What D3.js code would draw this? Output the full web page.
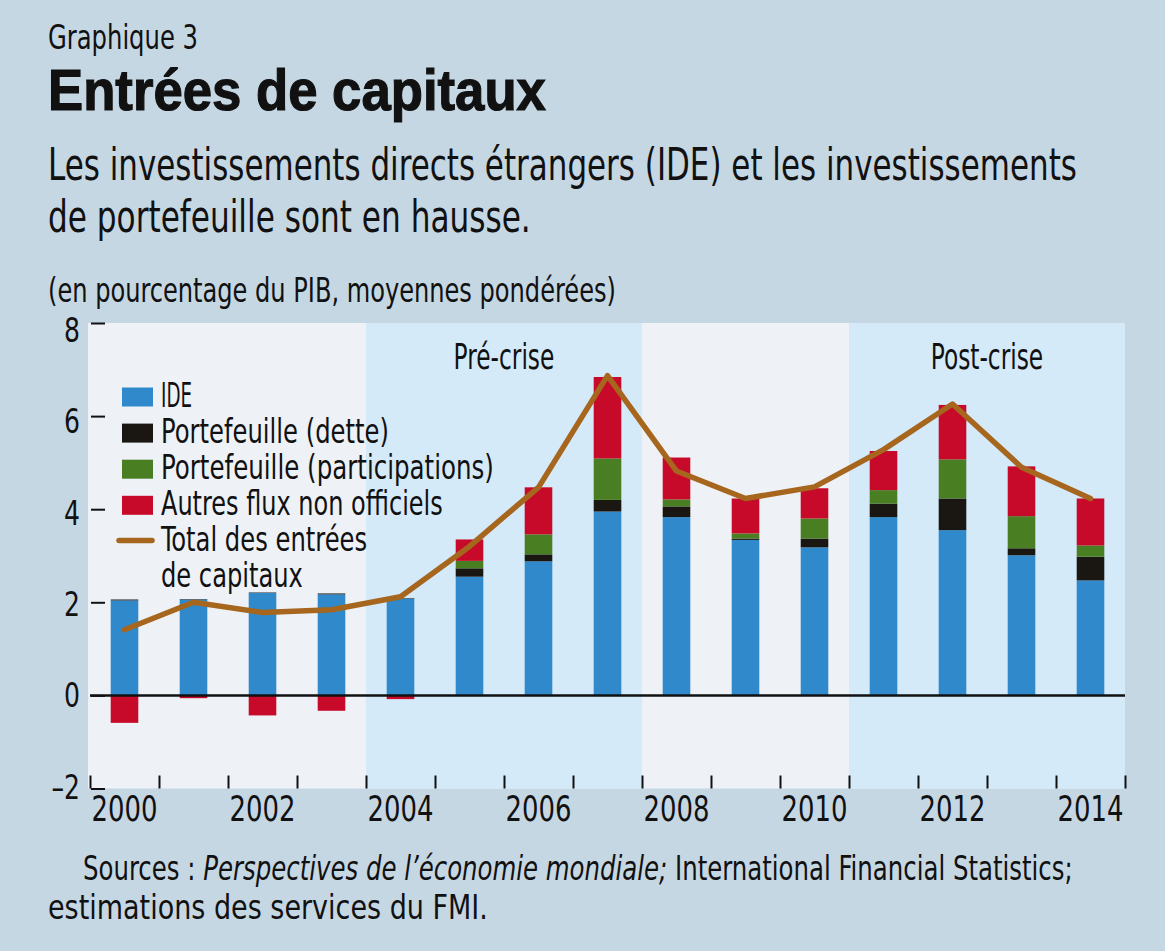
<!DOCTYPE html>
<html>
<head>
<meta charset="utf-8">
<script src="https://cdn.jsdelivr.net/npm/d3@7"></script>
<style>
  body { margin: 0; background: #c6d7e4; }
  svg { display: block; }
  text { font-family: "DejaVu Sans Condensed", "Liberation Sans Narrow", sans-serif; fill: #111; }
  .title { font-family: "Liberation Sans", Arial, sans-serif; font-weight: bold; stroke: #111; stroke-width: 1.2px; }
</style>
</head>
<body>
<script>
const width = 1165;
const height = 951;

// data (% of GDP)
const years = [2000, 2001, 2002, 2003, 2004, 2005, 2006, 2007, 2008, 2009, 2010, 2011, 2012, 2013, 2014];
const ide = [2.04, 2.06, 2.20, 2.17, 2.08, 2.55, 2.88, 3.95, 3.83, 3.34, 3.18, 3.83, 3.55, 3.01, 2.47];
const dette = [0.02, 0.01, 0.01, 0.02, 0.01, 0.18, 0.15, 0.25, 0.23, 0.03, 0.19, 0.29, 0.68, 0.15, 0.51];
const participations = [0, 0, 0, 0, 0, 0.16, 0.43, 0.89, 0.15, 0.11, 0.43, 0.29, 0.84, 0.69, 0.24];
const autres = [-0.59, -0.06, -0.43, -0.33, -0.08, 0.46, 1.01, 1.75, 0.90, 0.75, 0.65, 0.84, 1.17, 1.07, 1.01];
const total = [1.41, 2.00, 1.78, 1.84, 2.12, 3.20, 4.47, 6.87, 4.82, 4.23, 4.48, 5.28, 6.26, 4.90, 4.23];

const seriesKeys = ["ide", "dette", "participations", "autres"];
const seriesLabels = ["IDE", "Portefeuille (dette)", "Portefeuille (participations)", "Autres flux non officiels"];
const seriesColors = ["#2f89ca", "#1a1612", "#4a7e22", "#c80a2a"];
const lineLabel = ["Total des entrées", "de capitaux"];
const lineColor = "#a6661e";

const yTicks = [-2, 0, 2, 4, 6, 8];
const xLabelYears = [2000, 2002, 2004, 2006, 2008, 2010, 2012, 2014];
const periods = [
    { from: 2004, to: 2007, label: "Pré-crise" },
    { from: 2011, to: 2014, label: "Post-crise" }
];

var svg;
var x_scale, x_edge, y_scale;
const plot = { left: 90, right: 1125, top: 323, bottom: 788.5 };

// the reference font is a narrow condensed face: squeeze each text to its width
function squeeze(sel, target) {
    sel.each(function () {
        const t = d3.select(this);
        const w = this.getBBox().width;
        const s = target / w;
        const ax = +t.attr("x") || 0;
        t.attr("transform", "translate(" + (ax * (1 - s)) + ",0) scale(" + s + ",1)");
    });
    return sel;
}
function squeezeBy(sel, s) {
    sel.each(function () {
        const t = d3.select(this);
        const ax = +t.attr("x") || 0;
        t.attr("transform", "translate(" + (ax * (1 - s)) + ",0) scale(" + s + ",1)");
    });
}

function addText(x, y, size, str, w, cls) {
    const t = svg.append("text").attr("x", x).attr("y", y).style("font-size", size + "px").text(str);
    if (cls) t.attr("class", cls);
    if (w) squeeze(t, w);
    return t;
}

function generateScale() {
    x_scale = d3.scaleBand()
        .domain(years)
        .range([plot.left, plot.right])
        .paddingInner(0.6)
        .paddingOuter(0.3);
    // continuous scale for band edges (ticks & shaded periods)
    x_edge = d3.scaleLinear()
        .domain([years[0] - 0.5, years[years.length - 1] + 0.5])
        .range([plot.left, plot.right]);
    y_scale = d3.scaleLinear()
        .domain([-2, 8])
        .range([plot.bottom, plot.top]);
}

function generateTitles() {
    addText(48, 49, 34, "Graphique 3", 150);
    addText(48, 110, 58, "Entrées de capitaux", 498, "title");
    addText(48, 180, 44, "Les investissements directs étrangers (IDE) et les investissements", 1029);
    addText(48, 232, 44, "de portefeuille sont en hausse.", 483);
    addText(48, 302, 33, "(en pourcentage du PIB, moyennes pondérées)", 568);
}

function generateBackground() {
    svg.append("rect")
        .attr("x", plot.left - 2).attr("y", plot.top)
        .attr("width", plot.right - plot.left + 2).attr("height", plot.bottom - plot.top)
        .attr("fill", "#eef2f7");
    svg.selectAll(".period")
        .data(periods)
        .enter()
        .append("rect")
        .attr("class", "period")
        .attr("x", d => x_edge(d.from - 0.5))
        .attr("y", plot.top)
        .attr("width", d => x_edge(d.to + 0.5) - x_edge(d.from - 0.5))
        .attr("height", plot.bottom - plot.top)
        .attr("fill", "#d5eaf9");
    const pl = svg.selectAll(".period-label")
        .data(periods)
        .enter()
        .append("text")
        .attr("class", "period-label")
        .attr("x", d => (x_edge(d.from - 0.5) + x_edge(d.to + 0.5)) / 2)
        .attr("y", 369)
        .style("text-anchor", "middle")
        .style("font-size", "36px")
        .text(d => d.label);
    squeezeBy(pl, 0.72);
}

function generateAxis() {
    const y_axis = d3.axisLeft(y_scale)
        .tickValues(yTicks)
        .tickSizeInner(-14)
        .tickSizeOuter(0)
        .tickPadding(11)
        .tickFormat(d => d < 0 ? "\u2013" + Math.abs(d) : d);
    const gy = svg.append("g")
        .attr("id", "y-axis")
        .attr("transform", "translate(" + (plot.left + 1) + ",0)")
        .call(y_axis);
    gy.select(".domain").remove();
    gy.selectAll("line").attr("stroke", "#111").attr("stroke-width", 2);
    // labels in the original sit slightly tighter than the ticks
    const yl = gy.selectAll("text").style("font-size", "34px")
        .attr("dy", d => (11.5 + d * 0.85) + "px")
        .style("font-family", null).attr("fill", "#111");
    squeezeBy(yl, 0.82);

    // ticks at band edges, pointing up
    const edges = d3.range(years.length + 1).map(i => years[0] - 0.5 + i);
    const x_ticks = d3.axisBottom(x_edge)
        .tickValues(edges)
        .tickSizeInner(-13)
        .tickSizeOuter(0)
        .tickFormat("");
    const gx = svg.append("g")
        .attr("transform", "translate(0," + plot.bottom + ")")
        .call(x_ticks);
    gx.select(".domain").remove();
    gx.selectAll("line").attr("stroke", "#111").attr("stroke-width", 2);

    const x_axis = d3.axisBottom(x_scale)
        .tickValues(xLabelYears)
        .tickSize(0)
        .tickPadding(7);
    const gl = svg.append("g")
        .attr("id", "x-axis")
        .attr("transform", "translate(0," + plot.bottom + ")")
        .call(x_axis);
    gl.select(".domain").remove();
    const xl = gl.selectAll("text").style("font-size", "36px")
        .style("font-family", null).attr("fill", "#111");
    squeeze(xl, 66);
}

function generateBars() {
    const rows = years.map((yr, i) => ({
        year: yr, ide: ide[i], dette: dette[i], participations: participations[i], autres: autres[i]
    }));
    const stacked = d3.stack()
        .keys(seriesKeys)
        .offset(d3.stackOffsetDiverging)(rows);

    svg.append("g")
        .selectAll("g")
        .data(stacked)
        .enter()
        .append("g")
        .attr("fill", (d, i) => seriesColors[i])
        .selectAll("rect")
        .data(d => d)
        .enter()
        .append("rect")
        .attr("x", d => x_scale(d.data.year))
        .attr("width", x_scale.bandwidth())
        .attr("y", d => y_scale(Math.max(d[0], d[1])))
        .attr("height", d => Math.abs(y_scale(d[0]) - y_scale(d[1])));

    // zero line
    svg.append("line")
        .attr("x1", plot.left).attr("x2", plot.right)
        .attr("y1", y_scale(0)).attr("y2", y_scale(0))
        .attr("stroke", "#111").attr("stroke-width", 2.5);
}

function generateLine() {
    const line = d3.line()
        .x((d, i) => x_scale(years[i]) + x_scale.bandwidth() / 2)
        .y(d => y_scale(d));
    svg.append("path")
        .datum(total)
        .attr("d", line)
        .attr("fill", "none")
        .attr("stroke", lineColor)
        .attr("stroke-width", 5.5)
        .attr("stroke-linejoin", "round")
        .attr("stroke-linecap", "round");
}

function generateLegend() {
    const legend = svg.append("g").attr("id", "legend");
    const base = 407, rowH = 36.1;
    const widths = [31, 228, 333, 282];
    seriesLabels.forEach((label, i) => {
        const by = base + i * rowH;
        legend.append("rect")
            .attr("x", 122).attr("y", by - 19.5)
            .attr("width", 31).attr("height", 19)
            .attr("fill", seriesColors[i]);
        const t = legend.append("text")
            .attr("x", 161).attr("y", by)
            .style("font-size", "34px")
            .text(label);
        squeeze(t, widths[i]);
    });
    const by = base + 4 * rowH;
    legend.append("line")
        .attr("x1", 119).attr("x2", 152)
        .attr("y1", by - 11).attr("y2", by - 11)
        .attr("stroke", lineColor).attr("stroke-width", 5.5)
        .attr("stroke-linecap", "round");
    squeeze(legend.append("text").attr("x", 161).attr("y", by)
        .style("font-size", "34px").text(lineLabel[0]), 207);
    squeeze(legend.append("text").attr("x", 161).attr("y", by + 35.5)
        .style("font-size", "34px").text(lineLabel[1]), 142);
}

function generateSources() {
    const t = svg.append("text").attr("x", 83).attr("y", 880).style("font-size", "33px");
    t.append("tspan").text("Sources : ");
    t.append("tspan").style("font-style", "italic").text("Perspectives de l\u2019économie mondiale;");
    t.append("tspan").text(" International Financial Statistics;");
    squeeze(t, 990);
    addText(48, 919, 33, "estimations des services du FMI.", 440);
}

document.addEventListener("DOMContentLoaded", function () {
    svg = d3.select("body")
        .append("svg")
        .attr("width", width)
        .attr("height", height);
    svg.append("rect").attr("width", width).attr("height", height).attr("fill", "#c6d7e4");

    generateScale();
    generateTitles();
    generateBackground();
    generateAxis();
    generateBars();
    generateLine();
    generateLegend();
    generateSources();
});
</script>
</body>
</html>
